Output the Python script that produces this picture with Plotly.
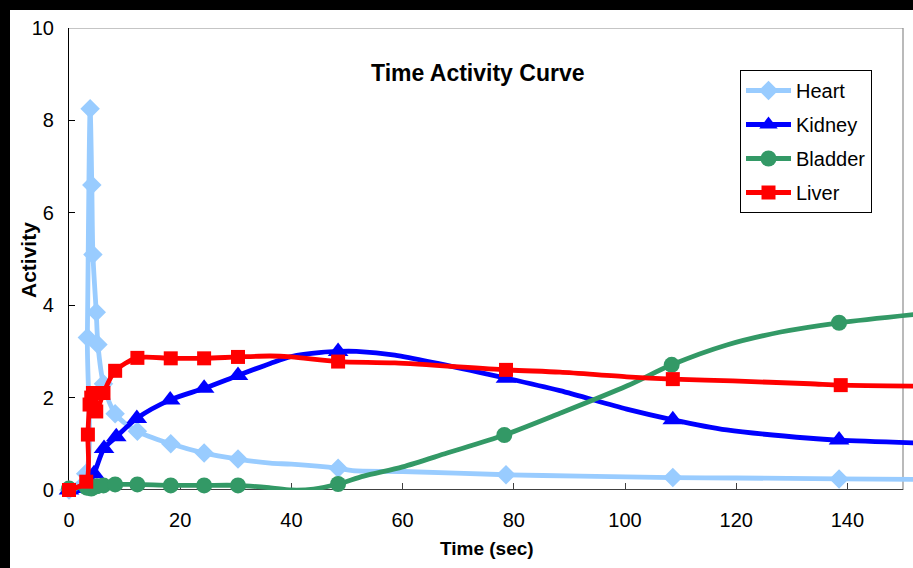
import plotly.graph_objects as go

# ---------------- data ----------------
x_ticks = [0, 20, 40, 60, 80, 100, 120, 140]
y_ticks = [0, 2, 4, 6, 8, 10]

series_names = ["Heart", "Kidney", "Bladder", "Liver"]

heart_t = [0, 3.0, 3.3, 3.8, 4.1, 4.3, 4.9, 5.2, 6.2, 8.3, 12.3, 18.3, 24.3, 30.4,
           36.2, 40, 48.4, 51, 60, 78.6, 92, 108.6, 120, 138.5, 152]
heart_a = [0, 0.35, 3.3, 8.25, 6.6, 5.1, 3.85, 3.15, 2.3, 1.65, 1.27, 1.0, 0.8, 0.67,
           0.58, 0.56, 0.47, 0.42, 0.40, 0.33, 0.30, 0.27, 0.26, 0.24, 0.23]
heart_marked = [0, 1, 2, 3, 4, 5, 6, 7, 8, 9, 10, 11, 12, 13, 16, 19, 21, 23]

kidney_t = [0, 3.0, 4.5, 6.3, 8.5, 12.2, 18.2, 24.3, 30.4, 36.2, 40, 45.4, 48.4, 51.7,
            58.6, 78.6, 88.3, 100.3, 108.6, 118.3, 133.3, 138.5, 152]
kidney_a = [0, 0.03, 0.35, 0.9, 1.15, 1.55, 1.95, 2.2, 2.48, 2.74, 2.89, 2.98, 3.0, 3.0,
            2.92, 2.42, 2.15, 1.75, 1.52, 1.30, 1.12, 1.08, 1.02]
kidney_marked = [0, 1, 2, 3, 4, 5, 6, 7, 8, 12, 15, 18, 21]

bladder_t = [0, 3.2, 4, 5, 6.2, 8.3, 12.3, 18.3, 24.3, 30.4, 36, 40, 44, 48.4, 53, 60,
             68, 78.3, 88.3, 100.3, 108.4, 118.3, 128, 138.5, 152]
bladder_a = [0.03, 0.05, 0.03, 0.08, 0.1, 0.12, 0.12, 0.1, 0.1, 0.1, 0.05, 0.0, 0.02,
             0.13, 0.3, 0.5, 0.8, 1.19, 1.66, 2.25, 2.71, 3.14, 3.42, 3.62, 3.80]
bladder_marked = [0, 1, 2, 3, 4, 5, 6, 7, 8, 9, 13, 17, 20, 23]

liver_t = [0, 3.1, 3.4, 3.7, 4.0, 4.3, 4.9, 6.2, 8.3, 12.3, 18.3, 24.3, 30.4, 36.2, 40,
           48.4, 58.6, 78.6, 88.3, 100.3, 108.6, 119.4, 133.3, 138.8, 152]
liver_a = [0, 0.18, 1.2, 1.85, 2.0, 2.1, 1.7, 2.1, 2.58, 2.86, 2.85, 2.85, 2.88, 2.9,
           2.88, 2.78, 2.75, 2.6, 2.55, 2.45, 2.4, 2.36, 2.3, 2.27, 2.25]
liver_marked = [0, 1, 2, 3, 4, 5, 6, 7, 8, 9, 10, 11, 12, 15, 17, 20, 23]

# ---------------- styling ----------------
styles = {
    "Heart":   dict(color="#99CCFF", symbol="diamond", size=15),
    "Kidney":  dict(color="#0000FF", symbol="triangle-up", size=18),
    "Bladder": dict(color="#339966", symbol="circle", size=16),
    "Liver":   dict(color="#FF0000", symbol="square", size=14),
}
data = {
    "Heart": (heart_t, heart_a, heart_marked),
    "Kidney": (kidney_t, kidney_a, kidney_marked),
    "Bladder": (bladder_t, bladder_a, bladder_marked),
    "Liver": (liver_t, liver_a, liver_marked),
}

FONT = "Liberation Sans, Arial, sans-serif"
W, H = 913, 568
ML, MR, MT, MB = 69, 0, 28, 78
PW, PH = W - ML - MR, H - MT - MB


def px_x(px):
    return (px - ML) / PW


def px_y(py):
    return (H - MB - py) / PH


fig = go.Figure()
for name in series_names:
    t, a, marked = data[name]
    st = styles[name]
    fig.add_trace(go.Scatter(
        x=t, y=a, mode="lines", showlegend=False, hoverinfo="skip",
        line=dict(color=st["color"], width=4.8, shape="spline", smoothing=0.8),
    ))
    fig.add_trace(go.Scatter(
        x=[t[i] for i in marked], y=[a[i] for i in marked], mode="markers",
        showlegend=False, cliponaxis=False,
        marker=dict(color=st["color"], symbol=st["symbol"], size=st["size"],
                    line=dict(width=0)),
    ))

for name in series_names:
    st = styles[name]
    fig.add_trace(go.Scatter(
        x=[None], y=[None], mode="lines+markers", name=name, legendgroup=name,
        line=dict(color=st["color"], width=4.8),
        marker=dict(color=st["color"], symbol=st["symbol"], size=st["size"]),
    ))

x_end = x_ticks[-1] + 10
shapes = [
    # white chart area inside the black frame
    dict(type="rect", xref="paper", yref="paper", layer="below",
         x0=px_x(10), x1=px_x(W + 10), y0=px_y(H + 10), y1=px_y(10),
         fillcolor="white", line=dict(width=0)),
    # plot-area border
    dict(type="line", xref="x", yref="y", layer="below",
         x0=0, x1=x_end, y0=y_ticks[-1], y1=y_ticks[-1],
         line=dict(color="#8c8c8c", width=1.2)),
    dict(type="line", xref="x", yref="y", layer="below",
         x0=x_end, x1=x_end, y0=0, y1=y_ticks[-1],
         line=dict(color="#8c8c8c", width=1.2)),
    # x axis line
    dict(type="line", xref="x", yref="y", layer="below",
         x0=0, x1=x_end, y0=0, y1=0,
         line=dict(color="#404040", width=1.8)),
]

annotations = [
    dict(text="<b>Time Activity Curve</b>", xref="paper", yref="paper",
         x=px_x(477), y=px_y(73), showarrow=False, xanchor="center", yanchor="middle",
         font=dict(family=FONT, size=23, color="black")),
    dict(text="<b>Time (sec)</b>", xref="paper", yref="paper",
         x=px_x(487), y=px_y(548), showarrow=False, xanchor="center", yanchor="middle",
         font=dict(family=FONT, size=19, color="black")),
    dict(text="<b>Activity</b>", xref="paper", yref="paper", textangle=-90,
         x=px_x(28), y=px_y(260), showarrow=False, xanchor="center", yanchor="middle",
         font=dict(family=FONT, size=21, color="black")),
]

fig.update_layout(
    width=W, height=H,
    margin=dict(l=ML, r=MR, t=MT, b=MB, pad=0),
    paper_bgcolor="black", plot_bgcolor="white",
    font=dict(family=FONT, color="black"),
    shapes=shapes, annotations=annotations,
    legend=dict(x=px_x(740), y=px_y(70), xanchor="left", yanchor="top",
                bgcolor="white", bordercolor="black", borderwidth=1,
                font=dict(family=FONT, size=20, color="black"),
                itemwidth=45, tracegroupgap=5, traceorder="grouped"),
    xaxis=dict(range=[0, PW / (111.2 / 20)], tickvals=x_ticks, ticks="inside",
               ticklen=7, tickcolor="#404040", tickwidth=1.2, showline=False,
               showgrid=False, zeroline=False, layer="below traces",
               tickfont=dict(family=FONT, size=20, color="black"),
               ticklabelstandoff=16),
    yaxis=dict(range=[0, 10], tickvals=y_ticks, ticks="inside", ticklen=6,
               tickcolor="black", tickwidth=1.2, showline=True, linecolor="black",
               linewidth=1.2, showgrid=False, zeroline=False, layer="below traces",
               tickfont=dict(family=FONT, size=20, color="black"),
               ticklabelstandoff=10),
)

fig.write_html("out.html",
               config={"displayModeBar": False},
               post_script="document.body.style.margin='0px';"
                           "document.body.style.overflow='hidden';"
                           "document.body.style.background='black';")
